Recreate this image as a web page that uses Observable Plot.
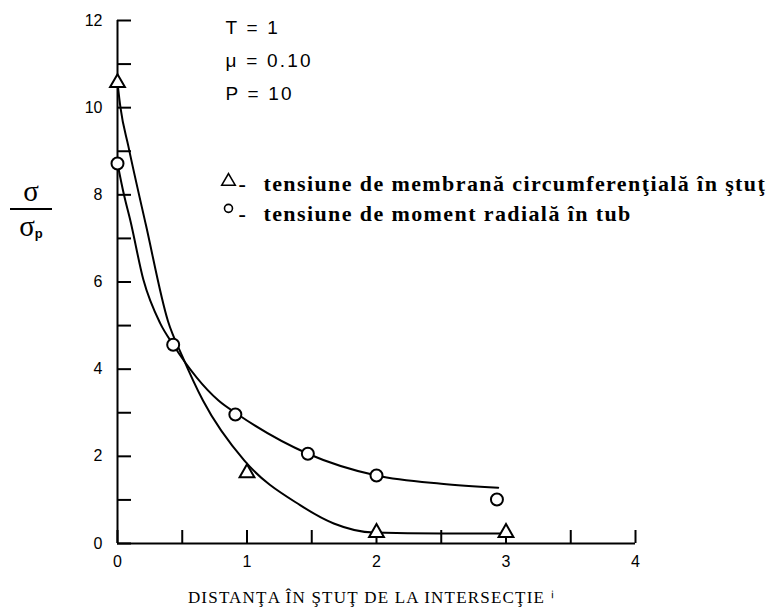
<!DOCTYPE html>
<html>
<head>
<meta charset="utf-8">
<script src="https://cdn.jsdelivr.net/npm/d3@7"></script>
<script src="https://cdn.jsdelivr.net/npm/@observablehq/plot@0.6"></script>
<style>
  body { margin: 0; background: #fff; }
  #wrap { position: relative; width: 773px; height: 615px; background: #fff; }
  #ylab { position: absolute; left: 10px; top: 175px; width: 42px; font-family: "Liberation Serif", serif; color: #000; text-align: center; }
  #ylab .num { font-size: 29px; line-height: 33px; border-bottom: 2px solid #000; }
  #ylab .den { font-size: 29px; line-height: 33px; }
  #ylab .den sub { font-family: "Liberation Sans", sans-serif; font-size: 13px; font-weight: bold; vertical-align: -2px; }
</style>
</head>
<body>
<div id="wrap"><div id="ylab"><div class="num">σ</div><div class="den">σ<sub>p</sub></div></div></div>
<script>
// Measured points (distance, sigma/sigma_p)
const triX = [0, 1, 2, 3];
const triY = [10.57, 1.62, 0.25, 0.25];
const circX = [0, 0.43, 0.91, 1.47, 2.0, 2.93];
const circY = [8.72, 4.56, 2.96, 2.06, 1.56, 1.01];

// Hand-drawn fitted curves
const triCurveX = [0, 0.023, 0.085, 0.22, 0.39, 0.5, 0.66, 0.98, 1.41, 1.67, 1.98, 2.5, 2.97];
const triCurveY = [10.57, 10.0, 9.1, 7.3, 5.1, 4.3, 3.28, 1.9, 0.88, 0.46, 0.25, 0.23, 0.23];
const circCurveX = [0, 0.05, 0.1, 0.2, 0.33, 0.43, 0.78, 0.93, 1.47, 2.0, 2.5, 2.94];
const circCurveY = [8.72, 8.0, 7.4, 6.05, 5.05, 4.56, 3.28, 2.96, 2.06, 1.56, 1.37, 1.28];

// Axes
const xTicks = [0, 0.5, 1, 1.5, 2, 2.5, 3, 3.5, 4];
const xTickLabels = [0, 1, 2, 3, 4];
const yTicks = [0, 1, 2, 3, 4, 5, 6, 7, 8, 9, 10, 11, 12];
const yTickLabels = [0, 2, 4, 6, 8, 10, 12];

// Texts
const params = ["T = 1", "μ = 0.10", "P = 10"];
const legendLabels = ["tensiune de membrană circumferenţială în ştuţ", "tensiune de moment radială în tub"];
const xTitle = "DISTANŢA ÎN ŞTUŢ DE LA INTERSECŢIE ⁱ";

const tri = triX.map((x, i) => ({x, y: triY[i]}));
const circ = circX.map((x, i) => ({x, y: circY[i]}));
const triCurve = triCurveX.map((x, i) => ({x, y: triCurveY[i]}));
const circCurve = circCurveX.map((x, i) => ({x, y: circCurveY[i]}));

// layout of annotation text (data coordinates)
const paramPos = [11.83, 11.08, 10.32];
const legendPos = [8.26, 7.57];

const sans = "'Liberation Sans', Arial, sans-serif";
const serif = "'Liberation Serif', 'Times New Roman', serif";

const chart = Plot.plot({
  width: 773,
  height: 615,
  marginLeft: 117,
  marginRight: 138,
  marginTop: 20,
  marginBottom: 72,
  x: {domain: [0, 4]},
  y: {domain: [0, 12]},
  style: {background: "white", color: "black", fontFamily: sans},
  marks: [
    Plot.axisX(xTicks, {tickSize: -13, tickFormat: () => "", strokeWidth: 2, label: null}),
    Plot.axisX(xTickLabels, {tickSize: 0, tickPadding: 12, fontSize: 16, tickFormat: d => String(d), label: null}),
    Plot.axisY(yTicks, {tickSize: -14, tickFormat: () => "", strokeWidth: 2, label: null}),
    Plot.axisY(yTickLabels, {tickSize: 0, tickPadding: 15, fontSize: 16, tickFormat: d => String(d), label: null}),
    Plot.ruleY([0], {x1: 0, x2: 4, strokeWidth: 2}),
    Plot.ruleX([0], {y1: 0, y2: 12, strokeWidth: 2}),
    Plot.line(triCurve, {x: "x", y: "y", curve: "monotone-x", strokeWidth: 2, stroke: "black"}),
    Plot.line(circCurve, {x: "x", y: "y", curve: "monotone-x", strokeWidth: 2, stroke: "black"}),
    Plot.dot(tri, {x: "x", y: "y", symbol: "triangle", r: 5.5, stroke: "black", fill: "white", strokeWidth: 2}),
    Plot.dot(circ, {x: "x", y: "y", symbol: "circle", r: 6, stroke: "black", fill: "white", strokeWidth: 2}),
    Plot.text(params, {x: () => 0.834, y: (d, i) => paramPos[i], text: d => d, textAnchor: "start", fontSize: 19, fontFamily: sans}),
    Plot.dot([legendLabels[0]], {x: () => 0.857, y: () => legendPos[0] + 0.05, symbol: "triangle", r: 5, stroke: "black", fill: "white", strokeWidth: 1.6}),
    Plot.dot([legendLabels[1]], {x: () => 0.857, y: () => legendPos[1] + 0.12, symbol: "circle", r: 4, stroke: "black", fill: "white", strokeWidth: 1.6}),
    Plot.text(legendLabels, {x: () => 0.935, y: (d, i) => legendPos[i], text: () => "-", textAnchor: "start", fontSize: 22, fontFamily: serif, fontWeight: "bold"}),
    Plot.text(legendLabels, {x: () => 1.127, y: (d, i) => legendPos[i], text: d => d, textAnchor: "start", fontSize: 22, fontFamily: serif, fontWeight: "bold"}),
    Plot.text([xTitle], {x: () => 1.96, frameAnchor: "bottom", dy: 59, text: d => d, fontSize: 17, fontFamily: serif})
  ]
});
// letter spacing of the text marks, in mark order: params, dashes, legend, x title
const spacing = ["2.2px", "0px", "1.4px", "1.2px"];
d3.select(chart).selectAll('g[aria-label="text"]').each(function(_, i) {
  d3.select(this).attr("letter-spacing", spacing[i]);
});
document.getElementById("wrap").prepend(chart);
</script>
</body>
</html>
